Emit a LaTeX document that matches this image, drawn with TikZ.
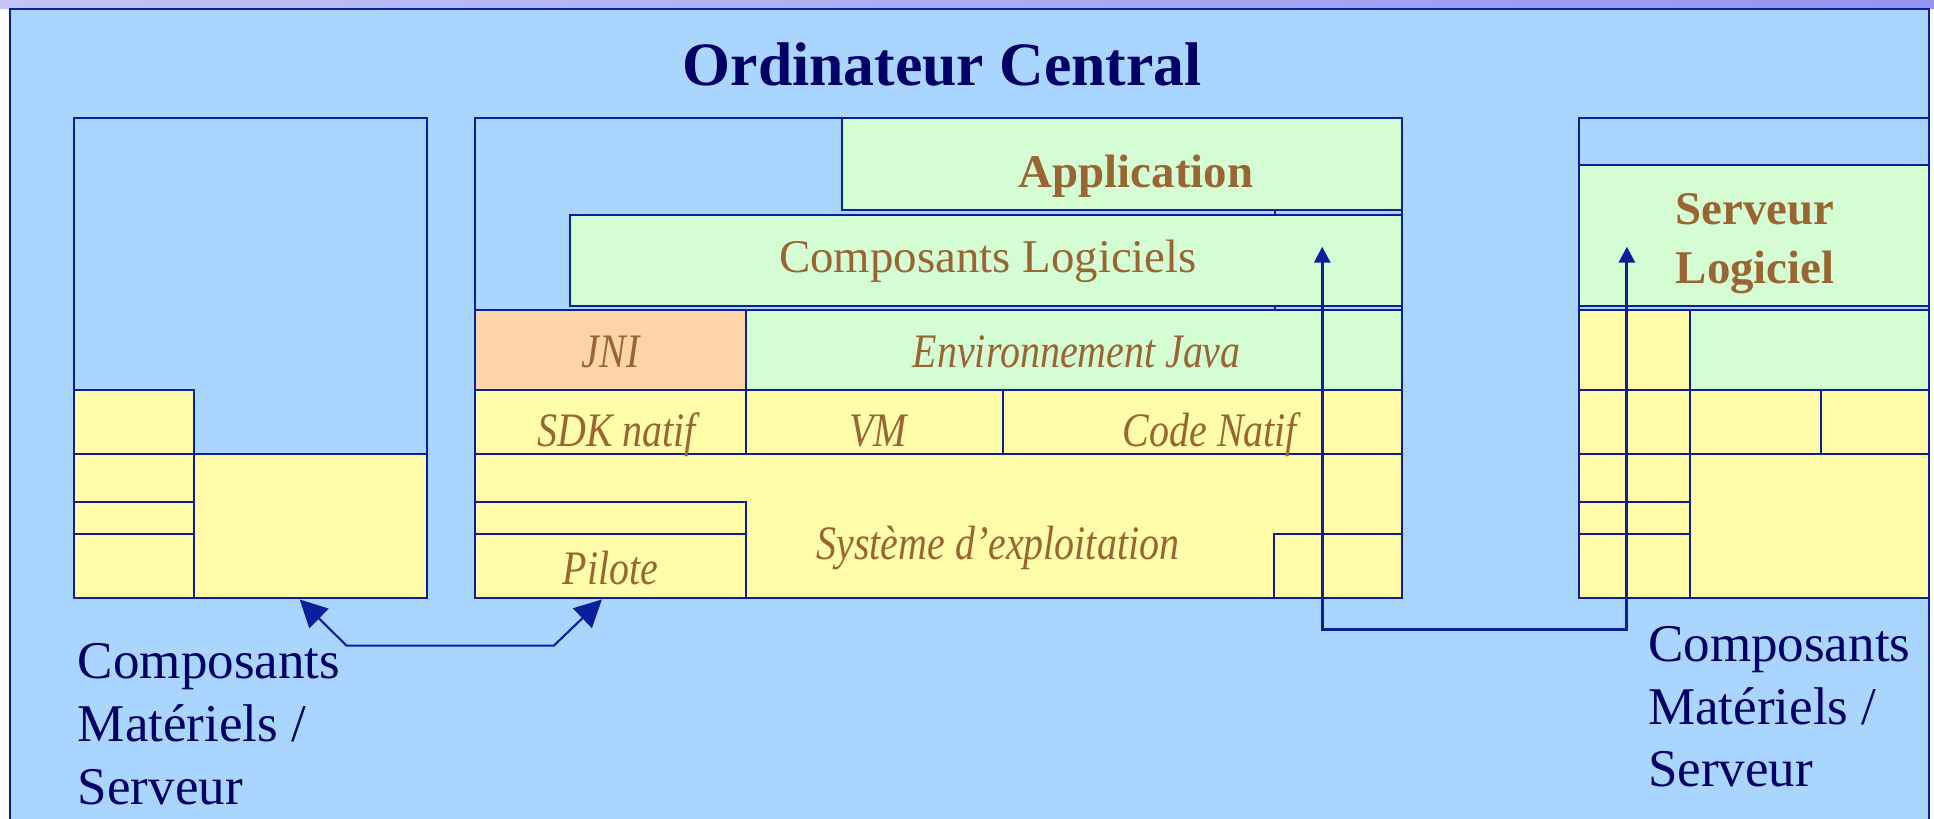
\documentclass[tikz,border=0pt]{standalone}
\usepackage{fontspec}
\setmainfont{Liberation Serif}
\newfontfamily\itf{Liberation Serif}[FakeStretch=0.83]
\usetikzlibrary{arrows.meta}
\definecolor{bgblue}{HTML}{A9D5FF}
\definecolor{lgreen}{HTML}{D4FDD4}
\definecolor{lyellow}{HTML}{FFFDA9}
\definecolor{lorange}{HTML}{FFD4A8}
\definecolor{navy}{HTML}{0A1F99}
\definecolor{txtbrown}{HTML}{996633}
\definecolor{titleblue}{HTML}{000066}
\definecolor{barleft}{HTML}{C2C4F4}
\definecolor{barmid}{HTML}{6868FF}
\definecolor{barright}{HTML}{9494F0}
\begin{document}
\begin{tikzpicture}[x=1bp,y=-1bp,
  box/.style={draw=navy, line width=1.6bp},
  bl/.style={box, fill=bgblue},
  gr/.style={box, fill=lgreen},
  ye/.style={box, fill=lyellow},
  orng/.style={box, fill=lorange},
  lbl/.style={text=txtbrown, inner sep=0pt, anchor=base, font=\fontsize{38bp}{46bp}\selectfont},
  blbl/.style={lbl, font=\bfseries\fontsize{38bp}{47.6bp}\selectfont},
  ilbl/.style={lbl, font=\itf\itshape\fontsize{39bp}{46bp}\selectfont},
  ttl/.style={text=titleblue, inner sep=0pt, anchor=base, font=\bfseries\fontsize{50bp}{60bp}\selectfont},
  botlbl/.style={text=titleblue, inner sep=0pt, anchor=base west, align=left, font=\fontsize{43bp}{51bp}\selectfont},
  arrA/.style={draw=navy, line width=1.7bp, {Triangle[length=22bp,width=22bp]}-{Triangle[length=22bp,width=22bp]}},
  arrB/.style={draw=navy, line width=2.4bp, {Triangle[length=13bp,width=13bp]}-{Triangle[length=13bp,width=13bp]}}
]
\useasboundingbox (0,0) rectangle (1568,664);
\clip (0,0) rectangle (1568,664);
\fill[white] (0,0) rectangle (1568,664);
% top bar
\shade[left color=barleft, middle color=barmid, right color=barright] (0,0) rectangle (1568,7);
% outer frame
\draw[bl, line width=1.8bp] (8,7) rectangle (1564,700);
\node[ttl] (title) at (764,69) {Ordinateur Central};

% left box (hardware)
\draw[bl] (60,96) rectangle (346,485);
\draw[ye] (60,316) rectangle (157,368);
\draw[ye] (60,368) rectangle (157,407);
\draw[ye] (60,407) rectangle (157,433);
\draw[ye] (60,433) rectangle (157,485);
\draw[ye] (157,368) rectangle (346,485);

% middle box
\draw[bl] (385,96) rectangle (1137,485);
\draw[box] (1034,96) -- (1034,251);
\draw[gr] (683,96) rectangle (1137,170);
\draw[gr] (462,174) rectangle (1137,248);
\draw[orng] (385,251) rectangle (605,316);
\draw[gr] (605,251) rectangle (1137,316);
\draw[ye] (385,316) rectangle (605,368);
\draw[ye] (605,316) rectangle (813,368);
\draw[ye] (813,316) rectangle (1137,368);
\draw[ye] (385,368) rectangle (1137,485);
\draw[ye] (385,407) rectangle (605,433);
\draw[ye] (385,433) rectangle (605,485);
\draw[ye] (1033,433) rectangle (1137,485);

\node[blbl] (app) at (921,152) {Application};
\node[lbl] (complog) at (801,221) {Composants Logiciels};
\node[ilbl] (jni) at (495,298) {JNI};
\node[ilbl] (env) at (873,298) {Environnement Java};
\node[ilbl] (sdk) at (500,362) {SDK natif};
\node[ilbl] (vm) at (712,362) {VM};
\node[ilbl] (code) at (981,362) {Code Natif};
\node[ilbl] (os) at (809,454) {Système d’exploitation};
\node[ilbl] (pilote) at (495,474) {Pilote};

% right box (server)
\draw[bl] (1280,96) rectangle (1564,485);
\draw[gr] (1280,134) rectangle (1564,248);
\draw[ye] (1280,251) rectangle (1370,316);
\draw[gr] (1370,251) rectangle (1564,316);
\draw[ye] (1280,316) rectangle (1370,368);
\draw[ye] (1370,316) rectangle (1476,368);
\draw[ye] (1476,316) rectangle (1564,368);
\draw[ye] (1280,368) rectangle (1370,407);
\draw[ye] (1280,407) rectangle (1370,433);
\draw[ye] (1280,433) rectangle (1370,485);
\draw[ye] (1370,368) rectangle (1564,485);
\node[blbl, align=center] (srv) at (1423,229.5) {Serveur\\Logiciel};

% bottom labels (anchor at the last line's baseline)
\node[botlbl] (hwleft) at (63,652) {Composants\\Matériels /\\Serveur};
\node[botlbl] (hwright) at (1336,638) {Composants\\Matériels /\\Serveur};

% connectors
\coordinate (hwtip) at (243,486);
\coordinate (hwc1) at (281,523.5);
\coordinate (hwc2) at (449,523.5);
\coordinate (piltip) at (488,486);
\draw[arrA] (hwtip) -- (hwc1) -- (hwc2) -- (piltip);

\coordinate (cltip) at (1072,200);
\coordinate (lc1) at (1072,510);
\coordinate (lc2) at (1319,510);
\coordinate (srvtip) at (1319,200);
\draw[arrB] (cltip) -- (lc1) -- (lc2) -- (srvtip);
\end{tikzpicture}
\end{document}
